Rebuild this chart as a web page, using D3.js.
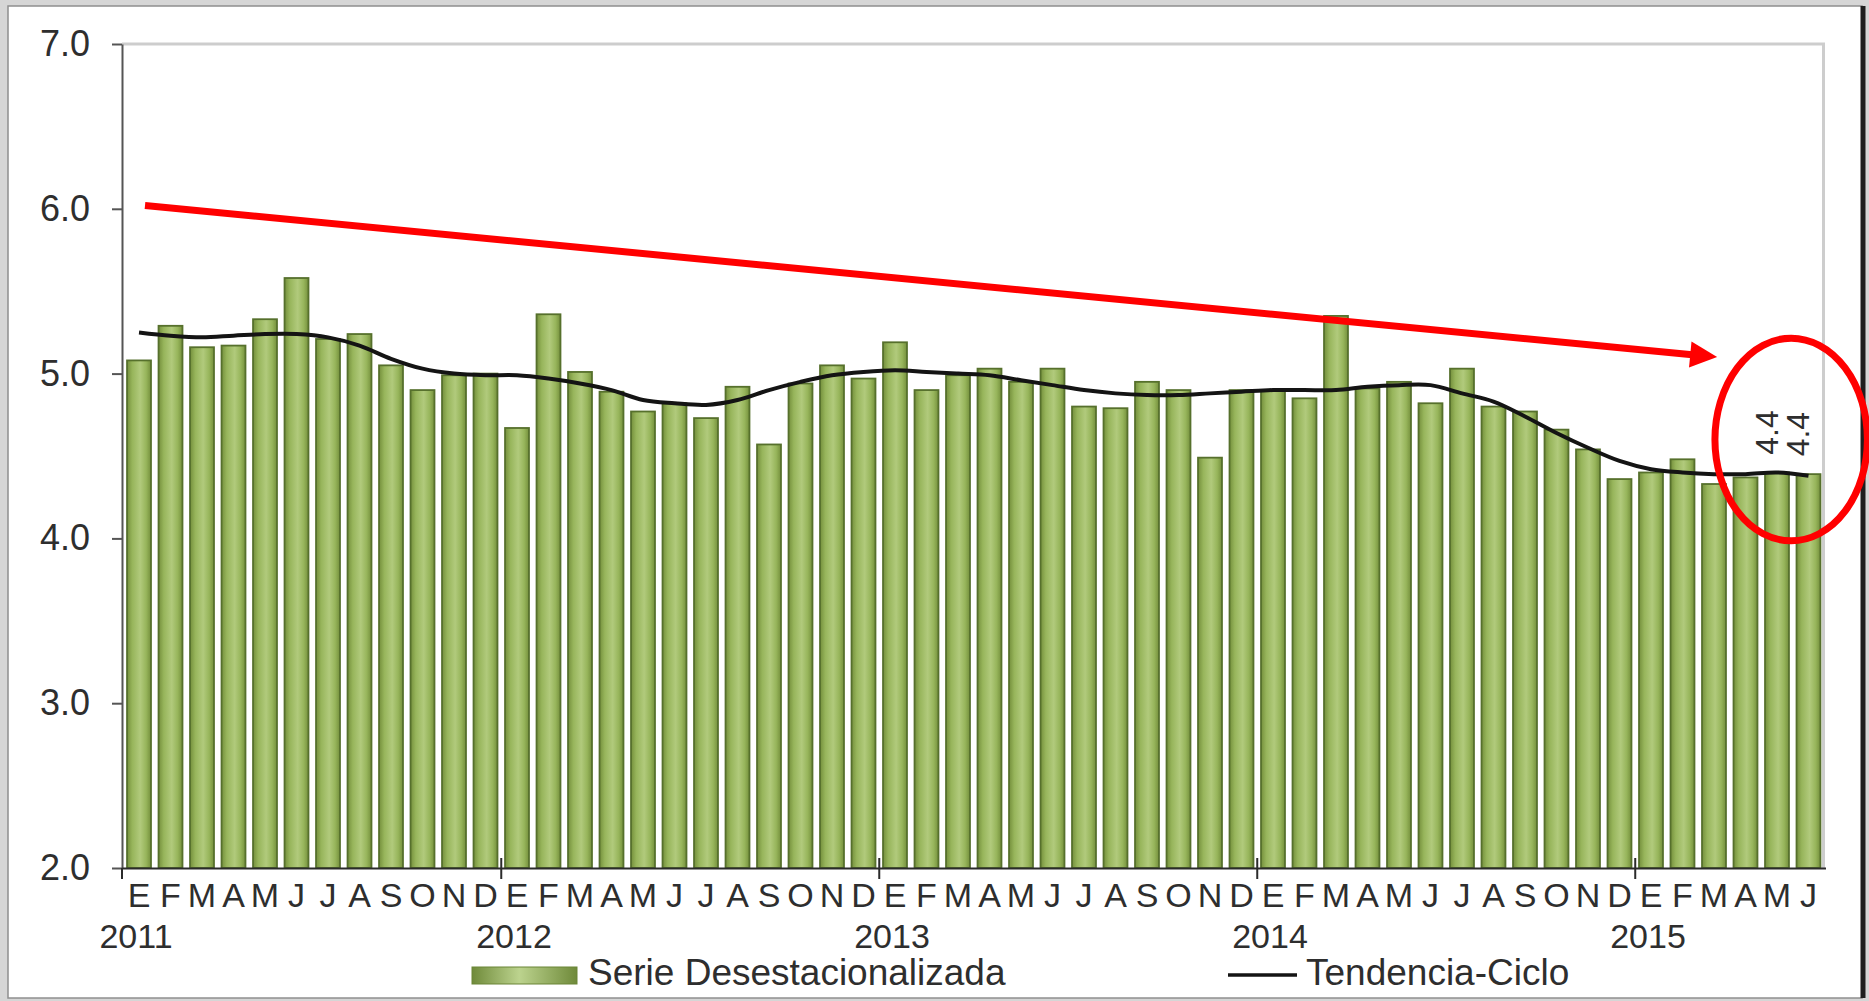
<!DOCTYPE html>
<html>
<head>
<meta charset="utf-8">
<script src="https://cdn.jsdelivr.net/npm/d3@7"></script>
<style>
  html, body { margin: 0; padding: 0; background: #d6d6d6; }
  svg { display: block; }
  text { font-family: "Liberation Sans", Arial, Helvetica, sans-serif; fill: #2e2e2e; }
</style>
</head>
<body>
<svg id="chart" width="1869" height="1001"></svg>
<script>
// ---------------- data ----------------
const monthLabels = ["E","F","M","A","M","J","J","A","S","O","N","D"];
const years = ["2011","2012","2013","2014","2015"];
const yTicks = [2, 3, 4, 5, 6, 7];

// Serie desestacionalizada (ene 2011 - jun 2015)
const serie2011 = [5.08, 5.29, 5.16, 5.17, 5.33, 5.58, 5.21, 5.24, 5.05, 4.90, 4.99, 5.00];
const serie2012 = [4.67, 5.36, 5.01, 4.89, 4.77, 4.82, 4.73, 4.92, 4.57, 4.94, 5.05, 4.97];
const serie2013 = [5.19, 4.90, 4.99, 5.03, 4.95, 5.03, 4.80, 4.79, 4.95, 4.90, 4.49, 4.90];
const serie2014 = [4.90, 4.85, 5.35, 4.91, 4.95, 4.82, 5.03, 4.80, 4.77, 4.66, 4.54, 4.36];
const serie2015 = [4.40, 4.48, 4.33, 4.37, 4.40, 4.39];

// Tendencia-Ciclo
const trend2011 = [5.25, 5.23, 5.22, 5.23, 5.24, 5.24, 5.22, 5.17, 5.09, 5.03, 5.00, 4.99];
const trend2012 = [4.99, 4.97, 4.94, 4.90, 4.84, 4.82, 4.81, 4.84, 4.90, 4.95, 4.99, 5.01];
const trend2013 = [5.02, 5.01, 5.00, 4.99, 4.96, 4.93, 4.90, 4.88, 4.87, 4.87, 4.88, 4.89];
const trend2014 = [4.90, 4.90, 4.90, 4.92, 4.93, 4.93, 4.88, 4.83, 4.74, 4.64, 4.55, 4.47];
const trend2015 = [4.42, 4.40, 4.39, 4.39, 4.40, 4.38];

// labelled points (indices) and annotation (in data units)
const labelledIdx = [52, 53];
const arrowFrom = { i: 0.19, v: 6.02 };
const arrowTo   = { i: 50.1, v: 5.10 };
const ellipseAnn = { i: 52.45, v: 4.60, ri: 2.42, rv: 0.615 };

const serie = [].concat(serie2011, serie2012, serie2013, serie2014, serie2015);
const trend = [].concat(trend2011, trend2012, trend2013, trend2014, trend2015);
const idx = d3.range(serie.length);

// ---------------- layout ----------------
const svg = d3.select("#chart");
const X0 = 122, X1 = 1825.5, YTOP = 44, YBOT = 868;

const x = d3.scaleBand().domain(idx).range([X0, X1]).paddingInner(0.24).paddingOuter(0.16);
const y = d3.scaleLinear().domain([2, 7]).range([YBOT, YTOP]);
const step = x.step(), bw = x.bandwidth();
const cx = i => x(0) + bw / 2 + step * i;   // continuous index -> px

// frame
svg.append("rect").attr("x", 0).attr("y", 0).attr("width", 1869).attr("height", 1001).attr("fill", "#d6d6d6");
svg.append("rect").attr("x", 8).attr("y", 6).attr("width", 1854).attr("height", 992)
  .attr("fill", "#fff").attr("stroke", "#8f8f8f").attr("stroke-width", 1.5);
svg.append("line").attr("x1", 1863).attr("x2", 1863).attr("y1", 6).attr("y2", 998)
  .attr("stroke", "#1e1e1e").attr("stroke-width", 5);

// defs
const defs = svg.append("defs");
const g1 = defs.append("linearGradient").attr("id", "barGrad").attr("x1", "0%").attr("x2", "100%").attr("y1", "0%").attr("y2", "0%");
[["0%", "#748f3c"], ["22%", "#97b55b"], ["55%", "#b1ca7c"], ["80%", "#97b55b"], ["100%", "#748f3c"]]
  .forEach(s => g1.append("stop").attr("offset", s[0]).attr("stop-color", s[1]));
const g2 = defs.append("linearGradient").attr("id", "legGrad").attr("x1", "0%").attr("x2", "100%").attr("y1", "0%").attr("y2", "0%");
[["0%", "#6f8a3a"], ["45%", "#bcd38e"], ["100%", "#6f8a3a"]]
  .forEach(s => g2.append("stop").attr("offset", s[0]).attr("stop-color", s[1]));

// plot border (top & right)
svg.append("path")
  .attr("d", `M${X0},${YTOP}H${X1 - 2}V${YBOT}`)
  .attr("fill", "none").attr("stroke", "#cdcdcd").attr("stroke-width", 3);

// bars
svg.append("g").selectAll("rect").data(idx).join("rect")
  .attr("x", i => x(i))
  .attr("width", bw)
  .attr("y", i => y(serie[i]))
  .attr("height", i => y(2) - y(serie[i]))
  .attr("fill", "url(#barGrad)")
  .attr("stroke", "#56702c").attr("stroke-width", 1.8);

// trend line
svg.append("path")
  .datum(idx)
  .attr("fill", "none").attr("stroke", "#141414").attr("stroke-width", 4)
  .attr("d", d3.line().x(i => x(i) + bw / 2).y(i => y(trend[i])).curve(d3.curveCatmullRom.alpha(0.5)));

// y axis
const yAxis = svg.append("g").attr("transform", `translate(${X0},0)`)
  .call(d3.axisLeft(y).tickValues(yTicks).tickFormat(d3.format(".1f")).tickSize(10).tickSizeOuter(0).tickPadding(22));
yAxis.select(".domain").attr("stroke", "#555").attr("stroke-width", 2);
yAxis.selectAll(".tick line").attr("stroke", "#555").attr("stroke-width", 2);
yAxis.selectAll(".tick text").style("font-size", "36px").attr("fill", "#2e2e2e")
  .style("font-family", "'Liberation Sans', Arial, sans-serif");

// x axis (months)
const xAxis = svg.append("g").attr("transform", `translate(0,${YBOT})`)
  .call(d3.axisBottom(x).tickFormat(i => monthLabels[i % 12]).tickSize(0).tickPadding(15));
xAxis.select(".domain").attr("stroke", "#2b2b2b").attr("stroke-width", 2.2);
xAxis.selectAll(".tick text").style("font-size", "34px").attr("fill", "#2e2e2e")
  .style("font-family", "'Liberation Sans', Arial, sans-serif");

// year boundary ticks
const yearStarts = years.map((_, k) => k * 12);
svg.append("g").selectAll("line").data(yearStarts).join("line")
  .attr("x1", i => i === 0 ? X0 : x(i) - (step - bw) / 2)
  .attr("x2", i => i === 0 ? X0 : x(i) - (step - bw) / 2)
  .attr("y1", i => i === 0 ? YBOT : YBOT - 10)
  .attr("y2", YBOT + 11)
  .attr("stroke", "#2b2b2b").attr("stroke-width", 2);

// year labels
svg.append("g").selectAll("text").data(years).join("text")
  .attr("x", (d, k) => x(k * 12) + bw / 2 - 3)
  .attr("y", 948)
  .attr("text-anchor", "middle")
  .style("font-size", "34px")
  .text(d => d);

// data labels (rotated)
svg.append("g").selectAll("text").data(labelledIdx).join("text")
  .attr("transform", i => `translate(${x(i) + bw / 2 - 10},${y(serie[i]) - 40}) rotate(-90)`)
  .attr("text-anchor", "middle")
  .attr("dominant-baseline", "central")
  .style("font-size", "32px").attr("fill", "#1e1e1e")
  .text(i => d3.format(".1f")(serie[i]));

// red annotation arrow
const ax1 = cx(arrowFrom.i), ay1 = y(arrowFrom.v), ax2 = cx(arrowTo.i), ay2 = y(arrowTo.v);
const len = Math.hypot(ax2 - ax1, ay2 - ay1), ux = (ax2 - ax1) / len, uy = (ay2 - ay1) / len;
const hl = 27, hw = 13;
const bx = ax2 - ux * hl, by = ay2 - uy * hl;
svg.append("line").attr("x1", ax1).attr("y1", ay1).attr("x2", bx + ux * 2).attr("y2", by + uy * 2)
  .attr("stroke", "#ff0000").attr("stroke-width", 7);
svg.append("path")
  .attr("d", `M${ax2},${ay2}L${bx - uy * hw},${by + ux * hw}L${bx + uy * hw},${by - ux * hw}Z`)
  .attr("fill", "#ff0000");

// red ellipse
svg.append("ellipse")
  .attr("cx", cx(ellipseAnn.i)).attr("cy", y(ellipseAnn.v))
  .attr("rx", step * ellipseAnn.ri).attr("ry", y(2) - y(2 + ellipseAnn.rv))
  .attr("fill", "none").attr("stroke", "#ff0000").attr("stroke-width", 7);

// legend
const leg = svg.append("g");
leg.append("rect").attr("x", 472).attr("y", 967).attr("width", 105).attr("height", 17)
  .attr("fill", "url(#legGrad)").attr("stroke", "#6a8536").attr("stroke-width", 1);
leg.append("text").attr("x", 588).attr("y", 985).style("font-size", "37px").text("Serie Desestacionalizada");
leg.append("line").attr("x1", 1228).attr("x2", 1297).attr("y1", 975).attr("y2", 975)
  .attr("stroke", "#141414").attr("stroke-width", 3.5);
leg.append("text").attr("x", 1306).attr("y", 985).style("font-size", "37px").text("Tendencia-Ciclo");
</script>
</body>
</html>
